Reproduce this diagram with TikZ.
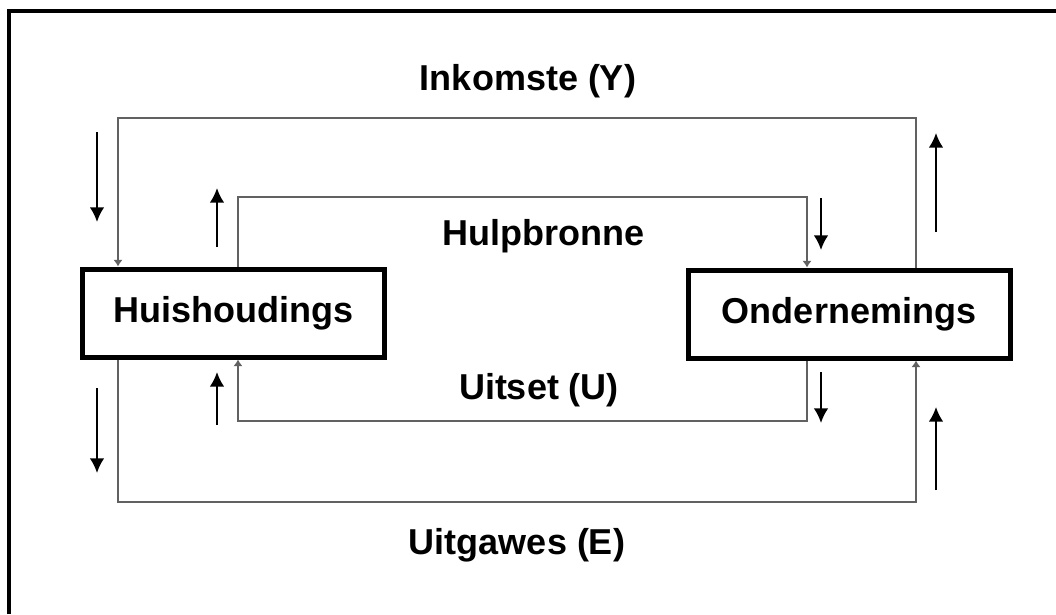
\documentclass[tikz,border=0pt]{standalone}
\usepackage{fontspec}
\setmainfont{Liberation Sans}
\usetikzlibrary{arrows.meta,positioning,calc}

\tikzset{
  sector/.style={draw=black,line width=3.75pt,fill=white,minimum height=66pt,inner sep=0pt,font=\bfseries\fontsize{27}{32}\selectfont},
  loopline/.style={draw=black!62,line width=2.2pt,-{Latex[length=5pt,width=7pt]}},
  flowarrow/.style={black,line width=1.5pt,-{Latex[length=11pt,width=11pt]}},
  flowlabel/.style={font=\bfseries\fontsize{27}{32}\selectfont,inner sep=0pt},
}

\begin{document}
\begin{tikzpicture}[x=0.75pt,y=-0.75pt]
\useasboundingbox (0,0) rectangle (1056,614);

%frame
\draw[line width=3pt] (9,614) -- (9,11) -- (1056,11);

%sectors
\node[sector,minimum width=227pt] (hh) at (233.5,313) {Huishoudings};
\node[sector,minimum width=241.5pt] (ond) at (849,314) {Ondernemings};

%corners of the loops
\coordinate (outNW) at (118,118);
\coordinate (outNE) at (916,118);
\coordinate (outSW) at (118,502);
\coordinate (outSE) at (916,502);
\coordinate (inNW) at (238,197);
\coordinate (inNE) at (807,197);
\coordinate (inSW) at (238,421);
\coordinate (inSE) at (807,421);

%outer loop
\draw[loopline] (outNE |- ond.north) -- (outNE) -- (outNW) -- (outNW |- hh.north);
\draw[loopline] (outSW |- hh.south) -- (outSW) -- (outSE) -- (outSE |- ond.south);

%inner loop
\draw[loopline] (inNW |- hh.north) -- (inNW) -- (inNE) -- (inNE |- ond.north);
\draw[loopline] (inSE |- ond.south) -- (inSE) -- (inSW) -- (inSW |- hh.south);

%labels
\node[flowlabel] (inc) at (528,81) {Inkomste (Y)};
\node[flowlabel] (res) at (543,236) {Hulpbronne};
\node[flowlabel] (out) at (539,390) {Uitset (U)};
\node[flowlabel] (exp) at (517,545) {Uitgawes (E)};

%direction arrows
\draw[flowarrow] (97,132) -- (97,222);
\draw[flowarrow] (217,247) -- (217,188);
\draw[flowarrow] (821,198) -- (821,250);
\draw[flowarrow] (936,232) -- (936,133);
\draw[flowarrow] (97,388) -- (97,473);
\draw[flowarrow] (217,425) -- (217,372);
\draw[flowarrow] (821,372) -- (821,423);
\draw[flowarrow] (936,490) -- (936,407);

\end{tikzpicture}
\end{document}
